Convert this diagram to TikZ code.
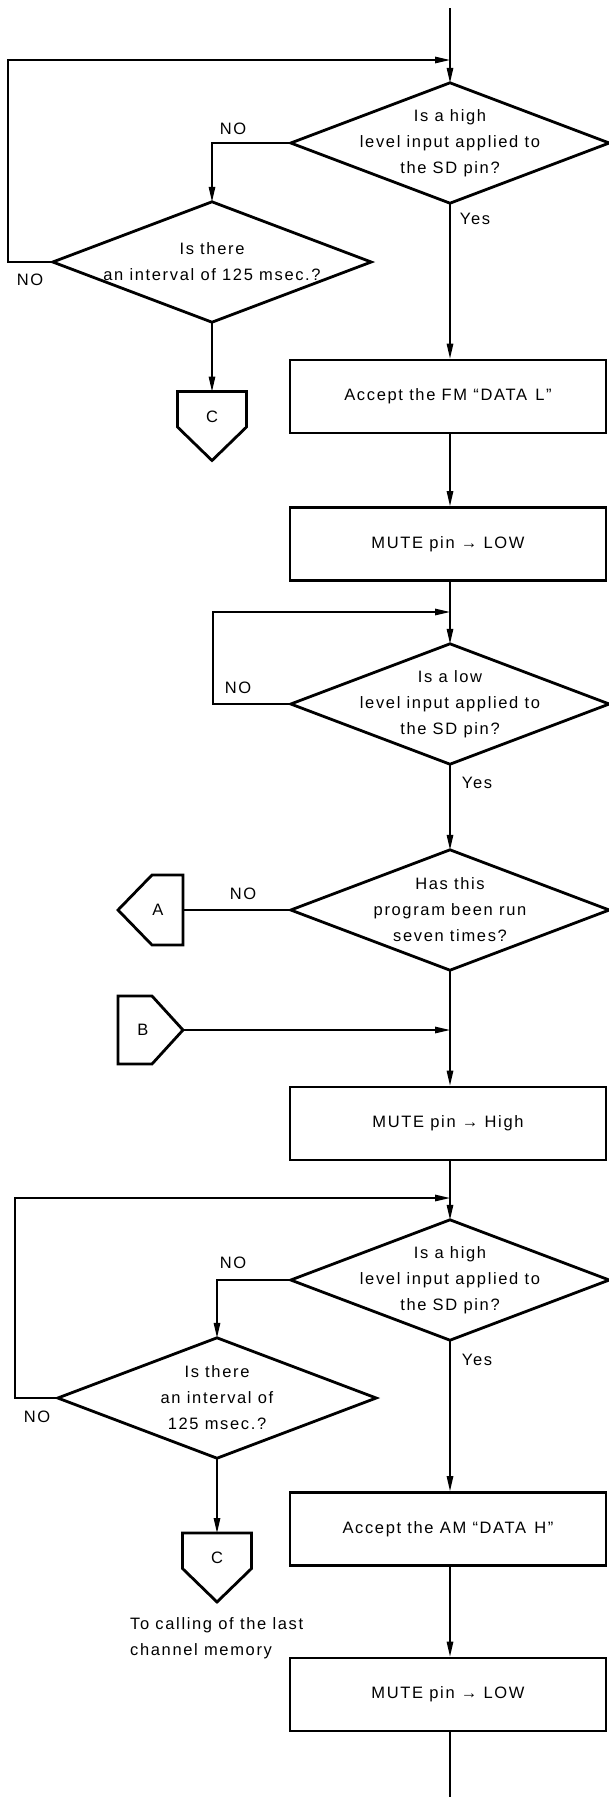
\documentclass[tikz,border=0pt]{standalone}
\usepackage{fontspec}
\setmainfont{Liberation Sans}[LetterSpace=10]
\usetikzlibrary{arrows.meta,calc}
\newcommand{\flowfont}{\fontsize{16.5}{26}\selectfont}
\begin{document}
\begin{tikzpicture}[x=1pt,y=-1pt,font=\flowfont,
  shapeline/.style={line width=2.8pt,line join=miter},
  flow/.style={line width=1.4pt},
  arr/.style={flow,-{Triangle[length=15pt,width=6.5pt]}},
  decision/.style={rectangle,minimum width=318pt,minimum height=120pt,inner sep=0pt,align=center},
  process/.style={rectangle,draw,shapeline,minimum width=316pt,minimum height=73pt,inner sep=0pt,align=center},
  lbl/.style={inner sep=0pt},
  offdown/.pic={\draw[shapeline] (-34.5,-34.5) -- (34.5,-34.5) -- (34.5,1) -- (0,34.5) -- (-34.5,1) -- cycle;},
  offleft/.pic={\draw[shapeline] (32.5,-35) -- (32.5,35) -- (1.5,35) -- (-32.5,0) -- (1.5,-35) -- cycle;},
  offright/.pic={\draw[shapeline] (-32.5,-34) -- (1.5,-34) -- (32.5,0) -- (1.5,34) -- (-32.5,34) -- cycle;}
]
\useasboundingbox (0,0) rectangle (608,1797);

% ---------- nodes ----------
\coordinate (top) at (450,8);
\node[decision] (d1) at (450,143) {Is a high\\level input applied to\\the SD pin?};
\node[decision] (d2) at (212,262) {Is there\\an interval of 125 msec.?};
\pic at (212,426) {offdown};
\node[lbl] (c1) at (212,417) {C};
\coordinate (c1t) at (212,391.5);
\node[process] (b1) at (448,396.5) {Accept the FM “DATA\hspace{0.5em}L”};
\node[process] (b2) at (448,544) {MUTE pin → LOW};
\node[decision] (d3) at (450,704) {Is a low\\level input applied to\\the SD pin?};
\node[decision] (d4) at (450,910) {Has this\\program been run\\seven times?};
\pic at (150.5,910) {offleft};
\node[lbl] (a) at (158,910) {A};
\coordinate (ar) at (183,910);
\pic at (150.5,1030) {offright};
\node[lbl] (b) at (143,1030) {B};
\coordinate (br) at (183,1030);
\node[process] (b3) at (448,1123.5) {MUTE pin → High};
\node[decision] (d5) at (450,1280) {Is a high\\level input applied to\\the SD pin?};
\node[decision] (d6) at (217,1398) {Is there\\an interval of\\125 msec.?};
\pic at (217,1567.5) {offdown};
\node[lbl] (c2) at (217,1558) {C};
\coordinate (c2t) at (217,1533);
\node[lbl,anchor=west,align=left] (note) at (130,1638.5) {To calling of the last\\channel memory};
\node[process] (b4) at (448,1529) {Accept the AM “DATA\hspace{0.5em}H”};
\node[process] (b5) at (448,1694.5) {MUTE pin → LOW};
\coordinate (bottom) at (450,1797);

\foreach \n in {d1,d2,d3,d4,d5,d6}
  \draw[shapeline] (\n.north) -- (\n.east) -- (\n.south) -- (\n.west) -- cycle;

% ---------- loop corners ----------
\coordinate (l1) at (8,60);
\coordinate (l2) at (213,612);
\coordinate (l3) at (15,1198);

% ---------- connectors ----------
\draw[arr] (top) -- (d1.north);
\draw[arr] (d2.west) -| (l1) -- (l1 -| top);
\draw[arr] (d1.west) -| (d2.north);
\draw[arr] (d2.south) -- (c1t);
\draw[arr] (d1.south) -- (d1.south |- b1.north);
\draw[arr] (b1.south -| d1.south) -- (d1.south |- b2.north);
\draw[arr] (b2.south -| d3.north) -- (d3.north);
\draw[arr] (d3.west) -| (l2) -- (l2 -| d3.north);
\draw[arr] (d3.south) -- (d4.north);
\draw[flow] (d4.west) -- (ar);
\draw[arr] (d4.south) -- (d4.south |- b3.north);
\draw[arr] (br) -- (br -| d4.south);
\draw[arr] (b3.south -| d5.north) -- (d5.north);
\draw[arr] (d6.west) -| (l3) -- (l3 -| d5.north);
\draw[arr] (d5.west) -| (d6.north);
\draw[arr] (d6.south) -- (c2t);
\draw[arr] (d5.south) -- (d5.south |- b4.north);
\draw[arr] (b4.south -| d5.south) -- (d5.south |- b5.north);
\draw[flow] (b5.south -| bottom) -- (bottom);

% ---------- labels ----------
\node[lbl] (no1) at (233,129) {NO};
\node[lbl] (no2) at (30,280) {NO};
\node[lbl] (no3) at (238,688) {NO};
\node[lbl] (no4) at (243,894) {NO};
\node[lbl] (no5) at (233,1263) {NO};
\node[lbl] (no6) at (37,1417) {NO};
\node[lbl] (y1) at (475,219) {Yes};
\node[lbl] (y3) at (477,783) {Yes};
\node[lbl] (y5) at (477,1360) {Yes};
\end{tikzpicture}
\end{document}
